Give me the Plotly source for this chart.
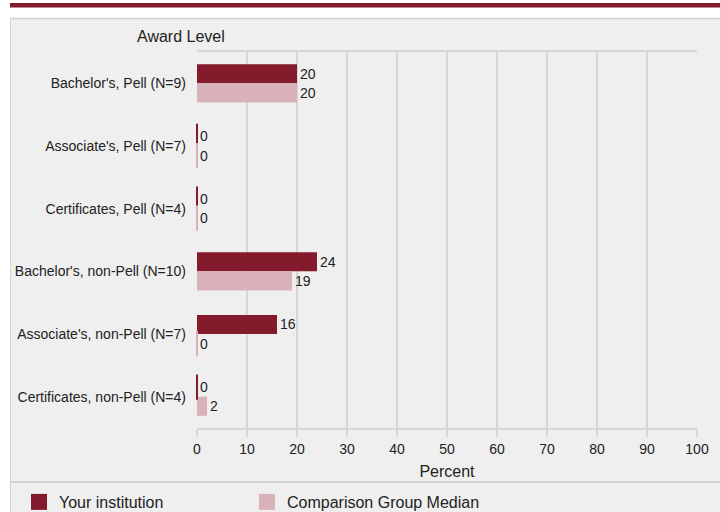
import plotly.graph_objects as go

categories = [
    "Bachelor's, Pell (N=9)",
    "Associate's, Pell (N=7)",
    "Certificates, Pell (N=4)",
    "Bachelor's, non-Pell (N=10)",
    "Associate's, non-Pell (N=7)",
    "Certificates, non-Pell (N=4)",
]
your_institution = [20, 0, 0, 24, 16, 0]
comparison_median = [20, 0, 0, 19, 0, 2]
x_ticks = [0, 10, 20, 30, 40, 50, 60, 70, 80, 90, 100]

MAROON = "#841b2d"
PINK = "#d9b1b8"
FONT = "Liberation Sans, Arial, sans-serif"

W, H = 720, 512
ML, MR, MT, MB = 197, 23, 52, 84
PW, PH = W - ML - MR, H - MT - MB
PANEL_L, PANEL_T = 10, 18


def px_x(px):
    return (px - ML) / PW


def px_y(py):
    return (H - MB - py) / PH


fig = go.Figure()
series = [("Your institution", your_institution, MAROON, "legend", 19),
          ("Comparison Group Median", comparison_median, PINK, "legend2", 247)]
for name, vals, col, lg, lx in series:
    fig.add_trace(go.Bar(
        y=categories, x=vals, orientation="h", name=name,
        marker=dict(color=col, line=dict(width=0)),
        text=[str(v) for v in vals], textposition="outside",
        textfont=dict(size=14, color="#222222", family=FONT),
        cliponaxis=False, showlegend=False, hoverinfo="skip",
    ))
# thin marks for zero-valued bars
for name, vals, col, lg, lx in series:
    fig.add_trace(go.Scatter(
        y=categories, x=[v if v == 0 else None for v in vals],
        orientation="h", mode="markers",
        marker=dict(symbol="line-ns", size=18, line=dict(width=2, color=col), color=col),
        showlegend=False, hoverinfo="skip", cliponaxis=False,
    ))
# legend entries
for name, vals, col, lg, lx in series:
    fig.add_trace(go.Scatter(
        x=[None], y=[None], mode="markers", name=name, legend=lg,
        marker=dict(symbol="square", size=16, color=col),
    ))

shapes = [
    dict(type="rect", xref="paper", yref="paper", x0=px_x(0), x1=px_x(W), y0=px_y(PANEL_T), y1=px_y(0),
         fillcolor="white", line=dict(width=0), layer="below"),
    dict(type="rect", xref="paper", yref="paper", x0=px_x(0), x1=px_x(PANEL_L), y0=px_y(H), y1=px_y(0),
         fillcolor="white", line=dict(width=0), layer="below"),
    dict(type="rect", xref="paper", yref="paper", x0=px_x(PANEL_L), x1=px_x(W), y0=px_y(7.5), y1=px_y(3),
         fillcolor=MAROON, line=dict(width=0), layer="below"),
    dict(type="line", xref="paper", yref="paper", x0=px_x(PANEL_L + 0.5), x1=px_x(PANEL_L + 0.5),
         y0=px_y(H), y1=px_y(PANEL_T + 0.5),
         line=dict(color="#d4d4d4", width=1), layer="below"),
    dict(type="line", xref="paper", yref="paper", x0=px_x(PANEL_L), x1=px_x(W),
         y0=px_y(PANEL_T + 0.5), y1=px_y(PANEL_T + 0.5),
         line=dict(color="#d4d4d4", width=1.5), layer="below"),
    dict(type="line", xref="paper", yref="paper", x0=px_x(PANEL_L), x1=px_x(W), y0=px_y(482), y1=px_y(482),
         line=dict(color="#d4d4d4", width=2), layer="below"),
]

legend_common = dict(orientation="h", xanchor="left", y=px_y(485), yanchor="top",
                     font=dict(size=16, family=FONT, color="#222222"),
                     bgcolor="rgba(0,0,0,0)", itemclick=False, itemdoubleclick=False)

fig.update_layout(
    width=W, height=H,
    margin=dict(l=ML, r=MR, t=MT, b=MB, pad=0, autoexpand=False),
    paper_bgcolor="#efefef", plot_bgcolor="#efefef",
    font=dict(family=FONT, size=14, color="#222222"),
    barmode="group", bargap=0.39, bargroupgap=0,
    scattermode="group", scattergap=0.39,
    shapes=shapes,
    showlegend=True,
    legend=dict(x=px_x(series[0][4]), **legend_common),
    legend2=dict(x=px_x(series[1][4]), **legend_common),
    annotations=[dict(text="Award Level", xref="paper", yref="paper", x=px_x(181), y=px_y(37),
                      xanchor="center", yanchor="middle", showarrow=False,
                      font=dict(size=16, family=FONT, color="#222222"))],
)
fig.update_xaxes(
    range=[0, 100], tickvals=x_ticks, ticktext=[str(t) for t in x_ticks],
    showgrid=True, gridcolor="#d6d6d6", gridwidth=2,
    showline=True, linecolor="#d6d6d6", linewidth=2, mirror=True,
    ticks="outside", ticklen=7, tickcolor="#d6d6d6", tickwidth=2,
    tickfont=dict(size=14), ticklabelstandoff=0, zeroline=False,
    title=dict(text="Percent", font=dict(size=16), standoff=10),
    fixedrange=True,
)
fig.update_yaxes(
    autorange="reversed", showgrid=False, showline=False, ticks="",
    tickfont=dict(size=14), ticklabelstandoff=10, fixedrange=True,
)

fig.write_html("out.html", config={"displayModeBar": False},
               post_script="document.body.style.margin='0';")
